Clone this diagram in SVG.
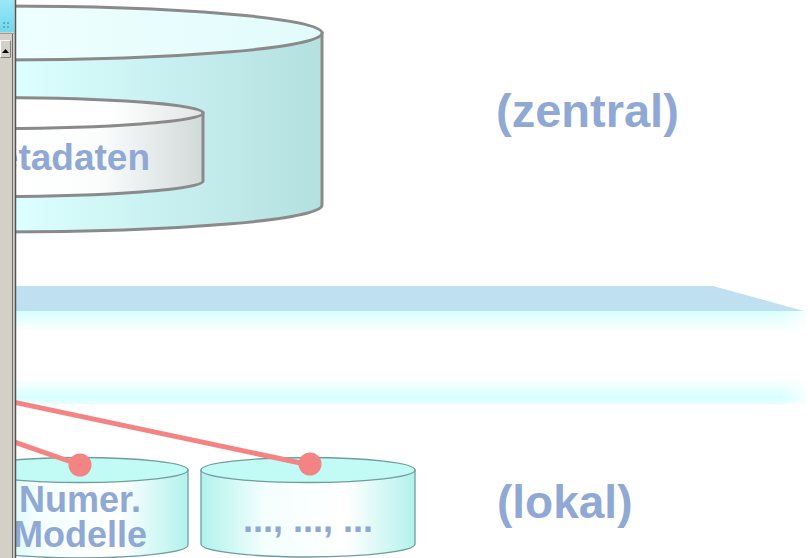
<svg xmlns="http://www.w3.org/2000/svg" width="808" height="558" viewBox="0 0 808 558">
  <defs>
    <linearGradient id="bigBody" gradientUnits="userSpaceOnUse" x1="16" y1="0" x2="322" y2="0">
      <stop offset="0" stop-color="#dcffff"/>
      <stop offset="1" stop-color="#b4e0e0"/>
    </linearGradient>
    <linearGradient id="bigTop" gradientUnits="userSpaceOnUse" x1="16" y1="0" x2="322" y2="0">
      <stop offset="0" stop-color="#eeffff"/>
      <stop offset="1" stop-color="#e2fbfb"/>
    </linearGradient>
    <linearGradient id="innerBody" gradientUnits="userSpaceOnUse" x1="16" y1="0" x2="203" y2="0">
      <stop offset="0" stop-color="#ffffff"/>
      <stop offset="0.45" stop-color="#fbfdfd"/>
      <stop offset="1" stop-color="#d2d9d9"/>
    </linearGradient>
    <linearGradient id="innerTop" gradientUnits="userSpaceOnUse" x1="16" y1="0" x2="203" y2="0">
      <stop offset="0" stop-color="#ffffff"/>
      <stop offset="0.5" stop-color="#ffffff"/>
      <stop offset="1" stop-color="#e2e6e6"/>
    </linearGradient>
    <linearGradient id="slabFront" x1="0" y1="0" x2="0" y2="1">
      <stop offset="0" stop-color="#d6ffff"/>
      <stop offset="0.22" stop-color="#ffffff"/>
      <stop offset="0.72" stop-color="#ffffff"/>
      <stop offset="0.93" stop-color="#d6ffff"/>
      <stop offset="1" stop-color="#e8ffff"/>
    </linearGradient>
    <linearGradient id="slabFade" x1="0" y1="0" x2="1" y2="0">
      <stop offset="0" stop-color="#ffffff" stop-opacity="0"/>
      <stop offset="1" stop-color="#ffffff" stop-opacity="0.8"/>
    </linearGradient>
    <linearGradient id="smallBody" x1="0" y1="0" x2="1" y2="0">
      <stop offset="0" stop-color="#b2f2ec"/>
      <stop offset="0.3" stop-color="#f4fffe"/>
      <stop offset="0.68" stop-color="#ffffff"/>
      <stop offset="1" stop-color="#b2f2ec"/>
    </linearGradient>
    <linearGradient id="btn" x1="0" y1="0" x2="0" y2="1">
      <stop offset="0" stop-color="#9ce8f8"/>
      <stop offset="1" stop-color="#70d8ee"/>
    </linearGradient>
  </defs>
  <style>
    .big { stroke: #8a8a8a; stroke-width: 3; }
    .small { stroke: #6f9e9c; stroke-width: 1.3; }
    .lbl { font-family: "Liberation Sans", Arial, sans-serif; font-weight: bold; fill: #8fa9d4; }
    .wire { stroke: #f48484; stroke-width: 5; fill: none; stroke-linecap: round; }
    .dot { fill: #f48484; }
  </style>
  <rect x="0" y="0" width="808" height="558" fill="#ffffff"/>

  <g id="layer">
    <rect x="16" y="311" width="790" height="93" fill="url(#slabFront)"/>
    <rect x="780" y="311" width="28" height="93" fill="url(#slabFade)"/>
    <polygon points="16,286 713,286 804,311 16,311" fill="#bfe0f0"/>
  </g>

  <g id="zentral-speicher">
    <path class="big" d="M-322 33 V205 A322 27 0 0 0 322 205 V33 Z" fill="url(#bigBody)"/>
    <ellipse class="big" cx="0" cy="33" rx="322" ry="27" fill="url(#bigTop)"/>
  </g>

  <g id="metadaten">
    <path class="big" d="M-223 113 V181 A213 15.5 0 0 0 203 181 V113 Z" fill="url(#innerBody)"/>
    <ellipse class="big" cx="-10" cy="113" rx="213" ry="15.5" fill="url(#innerTop)"/>
    <text class="lbl" x="150" y="170" font-size="37" text-anchor="end">Metadaten</text>
  </g>

  <g id="label-zentral">
    <text class="lbl" x="496" y="127" font-size="47">(zentral)</text>
  </g>
  <g id="label-lokal">
    <text class="lbl" x="497" y="518" font-size="46">(lokal)</text>
  </g>

  <g id="numer-modelle">
    <path class="small" d="M-28 470 V545 A108 13 0 0 0 188 545 V470 Z" fill="url(#smallBody)"/>
    <ellipse class="small" cx="80" cy="470" rx="108" ry="12.5" fill="#c2faf6"/>
    <text class="lbl" x="80" y="512" font-size="36" text-anchor="middle">Numer.</text>
    <text class="lbl" x="80" y="547" font-size="36" text-anchor="middle">Modelle</text>
  </g>

  <g id="weitere">
    <path class="small" d="M201 470 V544 A107 13 0 0 0 415 544 V470 Z" fill="url(#smallBody)"/>
    <ellipse class="small" cx="308" cy="470" rx="107" ry="12.5" fill="#c2faf6"/>
    <text class="lbl" x="308" y="532" font-size="36" text-anchor="middle">..., ..., ...</text>
  </g>

  <g id="connectors">
    <line class="wire" x1="-20" y1="430" x2="80" y2="465"/>
    <circle class="dot" cx="80" cy="465" r="11.5"/>
    <line class="wire" x1="-20" y1="395" x2="310" y2="465"/>
    <circle class="dot" cx="310" cy="464" r="11.5"/>
  </g>

  <g id="panel">
    <rect x="0" y="0" width="16" height="558" fill="#d4d0c8"/>
    <rect x="0" y="0" width="14" height="32" fill="url(#btn)"/>
    <g fill="#6aa8c0">
      <rect x="3" y="22" width="2" height="2"/><rect x="7" y="22" width="2" height="2"/>
      <rect x="3" y="26" width="2" height="2"/><rect x="7" y="26" width="2" height="2"/>
    </g>
    <line x1="0" y1="33.5" x2="14" y2="33.5" stroke="#9a9a9a" stroke-width="1"/>
    <rect x="0.5" y="40.5" width="10" height="17" fill="#d4d0c8" stroke="#ffffff" stroke-width="1"/>
    <path d="M0.5 57.5 H10.5 V40.5" fill="none" stroke="#808080" stroke-width="1"/>
    <polygon points="2,53 9,53 5.5,49" fill="#000000"/>
    <line x1="12.5" y1="34" x2="12.5" y2="558" stroke="#6a6a6a" stroke-width="1"/>
    <line x1="15.5" y1="0" x2="15.5" y2="558" stroke="#555555" stroke-width="1.5"/>
  </g>
</svg>
